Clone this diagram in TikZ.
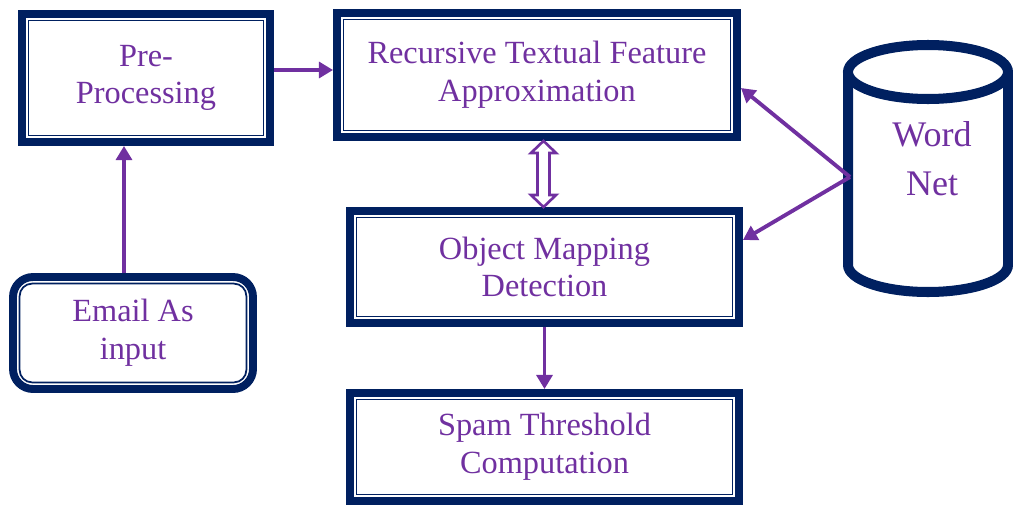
\documentclass[tikz,border=0pt]{standalone}
\usepackage{fontspec}
\setmainfont{Liberation Serif}
\usepackage{tikz}
\usetikzlibrary{positioning}
\usetikzlibrary{arrows.meta}
\usetikzlibrary{calc}
\definecolor{mynavy}{RGB}{0,32,96}
\definecolor{mypurple}{RGB}{112,48,160}

\begin{document}
\begin{tikzpicture}
	\useasboundingbox (0,0) rectangle (20.26,10.12);

	\begin{scope}[every node/.style={draw=mynavy, line width=4.5pt, fill=white, align=center,
	              text=mypurple, font=\fontsize{18.4}{21.5}\selectfont}]
	    \node (pre)   [minimum width=4.96cm, minimum height=2.56cm] at (2.92,8.56) {Pre-\\Processing};
	    \node (rec)   [minimum width=8.00cm, minimum height=2.48cm] at (10.74,8.62) {Recursive Textual Feature\\Approximation};
	    \node (obj)   [minimum width=7.78cm, minimum height=2.24cm] at (10.89,4.78) {Object Mapping\\Detection};
	    \node (spam)  [minimum width=7.78cm, minimum height=2.16cm] at (10.89,1.18) {Spam Threshold\\Computation};
	    \node (email) [minimum width=4.80cm, minimum height=2.24cm, rounded corners=0.4cm] at (2.66,3.46) {Email As\\input};
	\end{scope}

	\begin{scope}[every path/.style={draw=mynavy, line width=1pt}]
	    \foreach \n in {pre,rec,obj,spam}
	        \draw ([shift={(6pt,-6pt)}]\n.north west) rectangle ([shift={(-6pt,6pt)}]\n.south east);
	    \draw[rounded corners=0.25cm] ([shift={(6pt,-6pt)}]email.north west) rectangle ([shift={(-6pt,6pt)}]email.south east);
	\end{scope}

	% word net drum
	\begin{scope}[draw=mynavy, line width=5.7pt, fill=white]
	    \filldraw (16.96,8.68) -- (16.96,4.82) arc (180:360:1.6 and 0.54) -- (20.16,8.68);
	    \filldraw (18.56,8.68) ellipse (1.6 and 0.54);
	\end{scope}
	\node (wn) [align=center, text=mypurple, font=\fontsize{20.5}{28}\selectfont] at (18.64,6.94) {Word\\Net};
	\coordinate (src) at (17.0,6.58);

	\begin{scope}[every path/.style={draw=mypurple, line width=2.2pt, -{Triangle[length=8pt,width=9pt]}}]
	    \path ([yshift=0.16cm]pre.east) -- ([yshift=0.16cm]pre.east -| rec.west);
	    \path ([xshift=-0.18cm]email.north) -- ([xshift=-0.18cm]email.north |- pre.south);
	    \path (src) -- ([yshift=-0.26cm]rec.east);
	    \path (src) -- ([yshift=0.54cm]obj.east);
	    \path (obj.south) -- (spam.north);
	\end{scope}

	\coordinate (dt) at ([xshift=0.13cm]rec.south);
	\coordinate (db) at (dt |- obj.north);
	\draw[mypurple, line width=1.5pt, fill=white, line join=miter]
	    (dt) -- ++(0.25,-0.24) -- ++(-0.13,0) -- ($(db)+(0.12,0.24)$) -- ++(0.13,0) -- (db)
	    -- ++(-0.25,0.24) -- ++(0.13,0) -- ($(dt)+(-0.12,-0.24)$) -- ++(-0.13,0) -- cycle;
\end{tikzpicture}
\end{document}
